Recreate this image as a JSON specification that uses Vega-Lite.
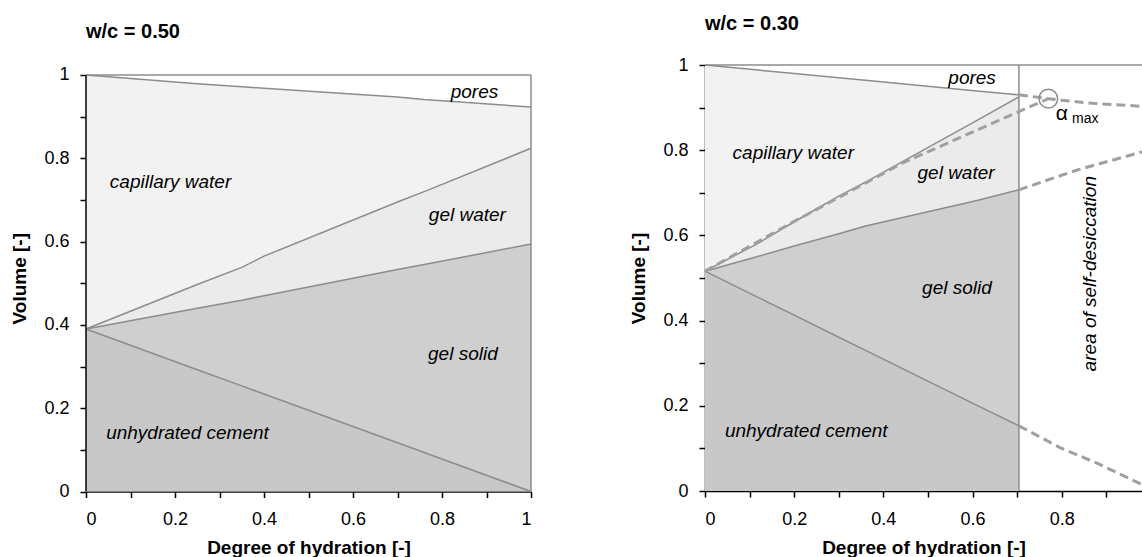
{
  "$schema": "https://vega.github.io/schema/vega-lite/v6.json",
  "padding": {"left": 10, "top": 14, "right": 0, "bottom": 0},
  "background": "white",
  "config": {
    "font": "Liberation Sans",
    "view": {"stroke": null},
    "axis": {"grid": false, "domainColor": "#000000", "domainWidth": 1.5, "tickColor": "#000000", "tickWidth": 1.5, "tickSize": 6, "labelFontSize": 18, "labelColor": "#000000", "labelFont": "Liberation Sans", "titleFontSize": 19, "titleFont": "Liberation Sans", "titleFontWeight": "bold", "titleColor": "#000000"},
    "axisX": {"labelPadding": 13, "titlePadding": 10, "labelAngle": 0},
    "axisY": {"labelPadding": 11, "titlePadding": 14},
    "title": {"anchor": "start", "frame": "group", "fontSize": 20, "fontWeight": "bold", "color": "#000000", "font": "Liberation Sans"}
  },
  "datasets": {
    "leftBands": [
      {"x": 0, "u": 0.39, "s": 0.39, "w": 0.39, "p": 1.0},
      {"x": 0.25, "u": 0.2925, "s": 0.44, "w": 0.497, "p": 0.979},
      {"x": 0.35, "u": 0.2535, "s": 0.459, "w": 0.538, "p": 0.972},
      {"x": 0.4, "u": 0.234, "s": 0.47, "w": 0.565, "p": 0.968},
      {"x": 0.7, "u": 0.117, "s": 0.533, "w": 0.695, "p": 0.947},
      {"x": 0.76, "u": 0.0936, "s": 0.545, "w": 0.72, "p": 0.941},
      {"x": 1, "u": 0, "s": 0.594, "w": 0.824, "p": 0.923}
    ],
    "leftText": [
      {"x": 0.873, "y": 0.959, "label": "pores"},
      {"x": 0.19, "y": 0.742, "label": "capillary water"},
      {"x": 0.857, "y": 0.665, "label": "gel water"},
      {"x": 0.847, "y": 0.329, "label": "gel solid"},
      {"x": 0.228, "y": 0.14, "label": "unhydrated cement"}
    ],
    "leftEdges": [
      {"edge": "axis", "x": 0, "y0": 0, "y1": 1},
      {"edge": "frame", "x": 1, "y0": 0, "y1": 1}
    ],
    "leftTop": [{"x0": 0, "x1": 1, "y": 1}],
    "rightBands": [
      {"x": 0, "u": 0.516, "s": 0.516, "w": 0.516, "p": 1.0},
      {"x": 0.12, "u": 0.454, "s": 0.551, "w": 0.582, "p": 0.988},
      {"x": 0.2, "u": 0.413, "s": 0.575, "w": 0.632, "p": 0.98},
      {"x": 0.3, "u": 0.361, "s": 0.604, "w": 0.692, "p": 0.97},
      {"x": 0.36, "u": 0.33, "s": 0.622, "w": 0.725, "p": 0.964},
      {"x": 0.61, "u": 0.201, "s": 0.682, "w": 0.87, "p": 0.939},
      {"x": 0.704, "u": 0.153, "s": 0.707, "w": 0.925, "p": 0.93}
    ],
    "rightDash": [
      {"line": "cement", "x": 0.704, "y": 0.153},
      {"line": "cement", "x": 0.796, "y": 0.102},
      {"line": "cement", "x": 0.884, "y": 0.063},
      {"line": "cement", "x": 0.98, "y": 0.015},
      {"line": "solid", "x": 0.704, "y": 0.707},
      {"line": "solid", "x": 0.833, "y": 0.753},
      {"line": "solid", "x": 0.98, "y": 0.796},
      {"line": "pores", "x": 0.704, "y": 0.93},
      {"line": "pores", "x": 0.8, "y": 0.917},
      {"line": "pores", "x": 0.87, "y": 0.91},
      {"line": "pores", "x": 0.98, "y": 0.903},
      {"line": "gelwater", "x": 0, "y": 0.516},
      {"line": "gelwater", "x": 0.2, "y": 0.633},
      {"line": "gelwater", "x": 0.3, "y": 0.689},
      {"line": "gelwater", "x": 0.443, "y": 0.77},
      {"line": "gelwater", "x": 0.696, "y": 0.887},
      {"line": "gelwater", "x": 0.77, "y": 0.921}
    ],
    "rightText": [
      {"x": 0.599, "y": 0.97, "label": "pores"},
      {"x": 0.198, "y": 0.794, "label": "capillary water"},
      {"x": 0.563, "y": 0.746, "label": "gel water"},
      {"x": 0.565, "y": 0.477, "label": "gel solid"},
      {"x": 0.227, "y": 0.14, "label": "unhydrated cement"}
    ],
    "rightCircle": [{"x": 0.77, "y": 0.921}],
    "rightAlpha": [{"x": 0.8, "y": 0.884, "label": "α"}],
    "rightSub": [{"x": 0.823, "y": 0.873, "label": "max"}],
    "rightVertical": [{"x": 0.864, "y": 0.51, "label": "area of self-desiccation"}],
    "rightFrame": [{"x": 0.704, "y": 1}]
  },
  "spacing": 95,
  "hconcat": [
    {
      "width": 445,
      "height": 426.5,
      "title": {"text": "w/c = 0.50", "offset": 23},
      "encoding": {
        "x": {"field": "x", "type": "quantitative", "scale": {"domain": [0, 1]}, "title": "Degree of hydration [-]",
          "axis": {"values": [0, 0.1, 0.2, 0.3, 0.4, 0.5, 0.6, 0.7, 0.8, 0.9, 1], "labelExpr": "round(datum.value*10)%2==0 ? format(datum.value,'~g') : ''"}}
      },
      "layer": [
        {"data": {"name": "leftBands"}, "mark": {"type": "area", "color": "#c8c8c8"},
          "encoding": {"y": {"field": "u", "type": "quantitative", "scale": {"domain": [0, 1.024], "nice": false}, "title": "Volume [-]",
            "axis": {"domain": false, "values": [0, 0.1, 0.2, 0.3, 0.4, 0.5, 0.6, 0.7, 0.8, 0.9, 1], "labelExpr": "round(datum.value*10)%2==0 ? format(datum.value,'~g') : ''"}}}},
        {"data": {"name": "leftBands"}, "mark": {"type": "area", "color": "#cfcfcf"},
          "encoding": {"y": {"field": "s", "type": "quantitative", "title": "Volume [-]"}, "y2": {"field": "u"}}},
        {"data": {"name": "leftBands"}, "mark": {"type": "area", "color": "#ebebeb"},
          "encoding": {"y": {"field": "w", "type": "quantitative", "title": "Volume [-]"}, "y2": {"field": "s"}}},
        {"data": {"name": "leftBands"}, "mark": {"type": "area", "color": "#f2f2f2"},
          "encoding": {"y": {"field": "p", "type": "quantitative", "title": "Volume [-]"}, "y2": {"field": "w"}}},
        {"data": {"name": "leftBands"}, "transform": [{"fold": ["u", "s", "w", "p"], "as": ["boundary", "v"]}],
          "mark": {"type": "line", "color": "#8c8c8c", "strokeWidth": 1.5},
          "encoding": {"y": {"field": "v", "type": "quantitative", "title": "Volume [-]"}, "detail": {"field": "boundary"}}},
        {"data": {"name": "leftTop"}, "mark": {"type": "rule", "color": "#8c8c8c", "strokeWidth": 1.5},
          "encoding": {"x": {"field": "x0", "type": "quantitative"}, "x2": {"field": "x1"}, "y": {"field": "y", "type": "quantitative", "title": "Volume [-]"}}},
        {"data": {"name": "leftEdges"}, "transform": [{"filter": "datum.edge == 'frame'"}], "mark": {"type": "rule", "color": "#8c8c8c", "strokeWidth": 1.5},
          "encoding": {"y": {"field": "y0", "type": "quantitative", "title": "Volume [-]"}, "y2": {"field": "y1"}}},
        {"data": {"name": "leftEdges"}, "transform": [{"filter": "datum.edge == 'axis'"}], "mark": {"type": "rule", "color": "#000000", "strokeWidth": 1.5},
          "encoding": {"y": {"field": "y0", "type": "quantitative", "title": "Volume [-]"}, "y2": {"field": "y1"}}},
        {"data": {"name": "leftText"}, "mark": {"type": "text", "fontSize": 19, "fontStyle": "italic", "color": "#000000", "align": "center", "baseline": "middle"},
          "encoding": {"y": {"field": "y", "type": "quantitative", "title": "Volume [-]"}, "text": {"field": "label"}}}
      ]
    },
    {
      "width": 437,
      "height": 426,
      "title": {"text": "w/c = 0.30", "offset": 22},
      "encoding": {
        "x": {"field": "x", "type": "quantitative", "scale": {"domain": [0, 0.98], "nice": false}, "title": "Degree of hydration [-]",
          "axis": {"values": [0, 0.1, 0.2, 0.3, 0.4, 0.5, 0.6, 0.7, 0.8, 0.9], "labelExpr": "round(datum.value*10)%2==0 ? format(datum.value,'~g') : ''"}}
      },
      "layer": [
        {"data": {"name": "rightBands"}, "mark": {"type": "area", "color": "#c8c8c8"},
          "encoding": {"y": {"field": "u", "type": "quantitative", "scale": {"domain": [0, 1]}, "title": "Volume [-]",
            "axis": {"values": [0, 0.1, 0.2, 0.3, 0.4, 0.5, 0.6, 0.7, 0.8, 0.9, 1], "labelExpr": "round(datum.value*10)%2==0 ? format(datum.value,'~g') : ''"}}}},
        {"data": {"name": "rightBands"}, "mark": {"type": "area", "color": "#cfcfcf"},
          "encoding": {"y": {"field": "s", "type": "quantitative", "title": "Volume [-]"}, "y2": {"field": "u"}}},
        {"data": {"name": "rightBands"}, "mark": {"type": "area", "color": "#ebebeb"},
          "encoding": {"y": {"field": "w", "type": "quantitative", "title": "Volume [-]"}, "y2": {"field": "s"}}},
        {"data": {"name": "rightBands"}, "mark": {"type": "area", "color": "#f2f2f2"},
          "encoding": {"y": {"field": "p", "type": "quantitative", "title": "Volume [-]"}, "y2": {"field": "w"}}},
        {"data": {"name": "rightBands"}, "transform": [{"fold": ["u", "s", "w", "p"], "as": ["boundary", "v"]}],
          "mark": {"type": "line", "color": "#8c8c8c", "strokeWidth": 1.5},
          "encoding": {"y": {"field": "v", "type": "quantitative", "title": "Volume [-]"}, "detail": {"field": "boundary"}}},
        {"data": {"name": "rightFrame"}, "mark": {"type": "rule", "color": "#8c8c8c", "strokeWidth": 1.5},
          "encoding": {"x": {"field": "x", "type": "quantitative"}}},
        {"data": {"name": "rightFrame"}, "mark": {"type": "rule", "color": "#8c8c8c", "strokeWidth": 1.5},
          "encoding": {"x": null, "y": {"field": "y", "type": "quantitative", "title": "Volume [-]"}}},
        {"data": {"name": "rightDash"}, "mark": {"type": "line", "color": "#a0a0a0", "strokeWidth": 3, "strokeDash": [9, 5]},
          "encoding": {"y": {"field": "y", "type": "quantitative", "title": "Volume [-]"}, "detail": {"field": "line"}}},
        {"data": {"name": "rightCircle"}, "mark": {"type": "point", "shape": "circle", "filled": false, "size": 346, "stroke": "#8c8c8c", "strokeWidth": 1.5, "opacity": 1},
          "encoding": {"y": {"field": "y", "type": "quantitative", "title": "Volume [-]"}}},
        {"data": {"name": "rightText"}, "mark": {"type": "text", "fontSize": 19, "fontStyle": "italic", "color": "#000000", "align": "center", "baseline": "middle"},
          "encoding": {"y": {"field": "y", "type": "quantitative", "title": "Volume [-]"}, "text": {"field": "label"}}},
        {"data": {"name": "rightVertical"}, "mark": {"type": "text", "fontSize": 19, "fontStyle": "italic", "color": "#000000", "align": "center", "baseline": "middle", "angle": 270},
          "encoding": {"y": {"field": "y", "type": "quantitative", "title": "Volume [-]"}, "text": {"field": "label"}}},
        {"data": {"name": "rightAlpha"}, "mark": {"type": "text", "fontSize": 21, "color": "#000000", "align": "center", "baseline": "middle"},
          "encoding": {"y": {"field": "y", "type": "quantitative", "title": "Volume [-]"}, "text": {"field": "label"}}},
        {"data": {"name": "rightSub"}, "mark": {"type": "text", "fontSize": 14, "color": "#000000", "align": "left", "baseline": "middle"},
          "encoding": {"y": {"field": "y", "type": "quantitative", "title": "Volume [-]"}, "text": {"field": "label"}}}
      ]
    }
  ]
}
